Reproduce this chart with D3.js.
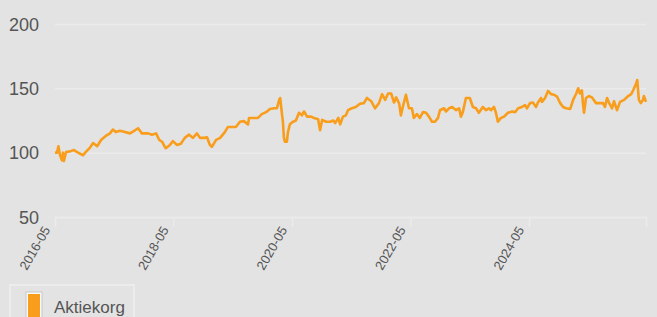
<!DOCTYPE html>
<html>
<head>
<meta charset="utf-8">
<script src="https://cdn.jsdelivr.net/npm/d3@7"></script>
<style>
  html, body { margin: 0; padding: 0; background: #e3e3e3; }
  svg { display: block; font-family: "Liberation Sans", Arial, sans-serif; }
  .axis text { fill: #555; }
</style>
</head>
<body>
<svg id="chart" width="657" height="317"></svg>
<script>

var seriesName = 'Aktiekorg';

var dates = [
  '2016-05-01','2016-05-13','2016-05-22','2016-06-01','2016-06-13','2016-06-19','2016-06-25','2016-07-08',
  '2016-08-02','2016-08-26','2016-09-20','2016-10-21','2016-11-03','2016-12-03','2016-12-22','2017-01-16',
  '2017-02-10','2017-03-10','2017-04-05','2017-04-23','2017-05-11','2017-06-05','2017-07-06','2017-08-06',
  '2017-09-01','2017-09-25','2017-10-19','2017-11-26','2017-12-20','2018-01-14','2018-02-02','2018-02-20',
  '2018-03-09','2018-03-15','2018-04-09','2018-04-28','2018-05-22','2018-06-16','2018-07-10','2018-08-05',
  '2018-08-29','2018-09-23','2018-10-12','2018-11-06','2018-11-24','2018-12-12','2018-12-24','2019-01-19',
  '2019-02-13','2019-03-14','2019-04-02','2019-04-26','2019-05-21','2019-06-15','2019-07-09','2019-08-04',
  '2019-08-10','2019-09-10','2019-10-04','2019-10-28','2019-11-23','2019-12-17','2020-01-11','2020-01-29',
  '2020-02-12','2020-02-18','2020-03-01','2020-03-06','2020-03-12','2020-03-18','2020-03-30','2020-04-06',
  '2020-04-18','2020-05-07','2020-05-25','2020-06-13','2020-07-01','2020-07-14','2020-08-02','2020-08-26',
  '2020-09-14','2020-10-09','2020-10-21','2020-11-03','2020-11-27','2020-12-22','2021-01-10','2021-01-22',
  '2021-02-10','2021-02-22','2021-03-11','2021-03-29','2021-04-11','2021-05-05','2021-05-29','2021-06-24',
  '2021-07-18','2021-08-06','2021-09-01','2021-09-25','2021-10-19','2021-11-07','2021-11-26','2021-12-14',
  '2022-01-02','2022-01-20','2022-02-02','2022-02-21','2022-03-03','2022-03-15','2022-04-03','2022-04-22',
  '2022-05-10','2022-05-22','2022-06-10','2022-06-28','2022-07-17','2022-08-05','2022-08-23','2022-09-11',
  '2022-09-29','2022-10-18','2022-10-30','2022-11-24','2022-12-06','2022-12-25','2023-01-13','2023-02-07',
  '2023-02-25','2023-03-08','2023-03-20','2023-04-08','2023-05-02','2023-05-21','2023-06-09','2023-06-27',
  '2023-07-21','2023-08-09','2023-08-28','2023-09-10','2023-09-28','2023-10-10','2023-10-22','2023-11-10',
  '2023-11-29','2023-12-23','2024-01-18','2024-02-05','2024-02-24','2024-03-18','2024-04-06','2024-04-18',
  '2024-05-07','2024-05-25','2024-06-13','2024-06-25','2024-07-14','2024-07-20','2024-08-08','2024-08-26',
  '2024-09-14','2024-10-02','2024-10-21','2024-11-09','2024-11-27','2024-12-15','2025-01-10','2025-01-28',
  '2025-02-16','2025-02-28','2025-03-11','2025-03-23','2025-03-29','2025-04-05','2025-04-17','2025-05-05',
  '2025-05-23','2025-06-18','2025-07-12','2025-07-31','2025-08-12','2025-08-25','2025-09-07','2025-09-25',
  '2025-10-07','2025-10-25','2025-11-13','2025-12-08','2026-01-02','2026-01-21','2026-02-02','2026-02-21',
  '2026-02-27','2026-03-09','2026-03-21','2026-04-03','2026-04-09','2026-04-22'
];

var values = [
  100, 100, 105, 98, 94, 100, 93.5, 100.5,
  101, 102, 100, 98, 100, 104, 107.5, 105,
  110, 113, 115, 118, 116, 117, 116, 115,
  117, 119, 115, 115, 114, 115, 110, 108.5,
  104.5, 103.5, 106, 109, 106, 107, 111.5, 114,
  111.5, 115, 111.5, 111.5, 112, 106, 104.5, 110,
  111.5, 116, 120, 120, 120, 124, 124.5, 122,
  127, 127, 127, 130, 131.5, 134, 134.5, 134.5,
  141, 142.5, 129, 124, 111.5, 108.5, 108.5, 116,
  122, 124, 125, 131, 129, 132, 128, 128,
  127, 126, 117.5, 125.5, 124, 124, 125, 123,
  127, 122, 128, 129, 133, 134.5, 135.5, 138,
  138.5, 142.5, 140, 134.5, 138.5, 145.5, 141, 146,
  146, 139, 143, 138, 129, 135.5, 145, 134.5,
  134.5, 127, 130, 127, 131.5, 131, 128, 124,
  124, 127, 133, 134.5, 132, 134.5, 135.5, 133,
  134.5, 128, 131.5, 142.5, 142.5, 135.5, 134.5, 131,
  135.5, 133, 134.5, 133, 135.5, 131, 124, 127,
  128, 131, 132, 131.5, 134.5, 135.5, 137, 134.5,
  138.5, 139, 135.5, 139, 142.5, 139.5, 142.5, 148,
  145.5, 145, 143.5, 138.5, 135.5, 134.5, 134, 141,
  146, 150, 146, 148.5, 138.5, 131, 142.5, 144,
  143, 138.5, 138.5, 138.5, 135.5, 142.5, 138.5, 134.5,
  140, 133, 139.5, 141, 144, 145.5, 148.5, 154,
  156.5, 141, 138.5, 141, 144, 139.5
];

var yTicks = [50, 100, 150, 200];
var xTickLabels = ['2016-05', '2018-05', '2020-05', '2022-05', '2024-05'];

var settings = {
  width: 657, height: 317,
  left: 55, right: 11, top: 24, bottom: 100,
  color: '#f99d1c', grid: '#ebebeb'
};

var parse = d3.timeParse('%Y-%m-%d');
var parseMonth = d3.timeParse('%Y-%m');
var data = dates.map(function(d, i) { return { date: parse(d), val: values[i] }; });

var svg = d3.select('#chart');

svg.append('rect')
  .attr('width', settings.width)
  .attr('height', settings.height)
  .attr('fill', '#e3e3e3');

var innerW = settings.width - settings.left - settings.right;
var innerH = settings.height - settings.top - settings.bottom;

var scaleX = d3.scaleTime()
  .domain(d3.extent(data, function(d) { return d.date; }))
  .range([0, innerW]);

var scaleY = d3.scaleLinear()
  .domain([50, 200])
  .range([innerH, 0]);

var g = svg.append('g')
  .attr('transform', 'translate(' + settings.left + ',' + settings.top + ')');

// y axis with grid lines
var axisY = d3.axisLeft(scaleY)
  .tickValues(yTicks)
  .tickSize(-innerW)
  .tickPadding(16);

var groupY = g.append('g')
  .classed('axis', true)
  .call(axisY);

groupY.select('.domain').remove();
groupY.selectAll('.tick line').attr('stroke', settings.grid).attr('stroke-width', 1.5);
groupY.selectAll('.tick text')
  .attr('font-size', '18px')
  .attr('dy', '0.35em');

// x axis
var axisX = d3.axisBottom(scaleX)
  .tickValues(xTickLabels.map(function(s) { return parseMonth(s); }))
  .tickFormat(d3.timeFormat('%Y-%m'))
  .tickSize(10)
  .tickPadding(3);

var groupX = g.append('g')
  .classed('axis', true)
  .attr('transform', 'translate(0,' + innerH + ')')
  .call(axisX);

groupX.select('.domain').attr('stroke', settings.grid).attr('stroke-width', 1.5);
groupX.selectAll('.tick line').attr('stroke', settings.grid).attr('stroke-width', 1.5);
groupX.selectAll('.tick text')
  .attr('font-size', '13px')
  .attr('text-anchor', 'end')
  .attr('transform', 'translate(-20,4) rotate(-60)')
  .attr('dy', '0.35em');

// line
var line = d3.line()
  .x(function(d) { return scaleX(d.date); })
  .y(function(d) { return scaleY(d.val); });

g.append('path')
  .datum(data)
  .attr('fill', 'none')
  .attr('stroke', settings.color)
  .attr('stroke-width', 2.6)
  .attr('stroke-linejoin', 'round')
  .attr('d', line);

// legend
var legend = svg.append('g').attr('transform', 'translate(10,285)');

legend.append('rect')
  .attr('width', 124).attr('height', 40)
  .attr('fill', 'none')
  .attr('stroke', '#ececec')
  .attr('stroke-width', 2);

legend.append('rect')
  .attr('x', 17).attr('y', 8)
  .attr('width', 14).attr('height', 30)
  .attr('fill', settings.color)
  .attr('stroke', '#fafafa')
  .attr('stroke-width', 2);

legend.append('rect')
  .attr('x', 16).attr('y', 7)
  .attr('width', 16).attr('height', 32)
  .attr('fill', 'none')
  .attr('stroke', '#c8c8c8')
  .attr('stroke-width', 1);

legend.append('text')
  .attr('x', 44).attr('y', 28)
  .attr('font-size', '17px')
  .attr('fill', '#555')
  .text(seriesName);

</script>
</body>
</html>
